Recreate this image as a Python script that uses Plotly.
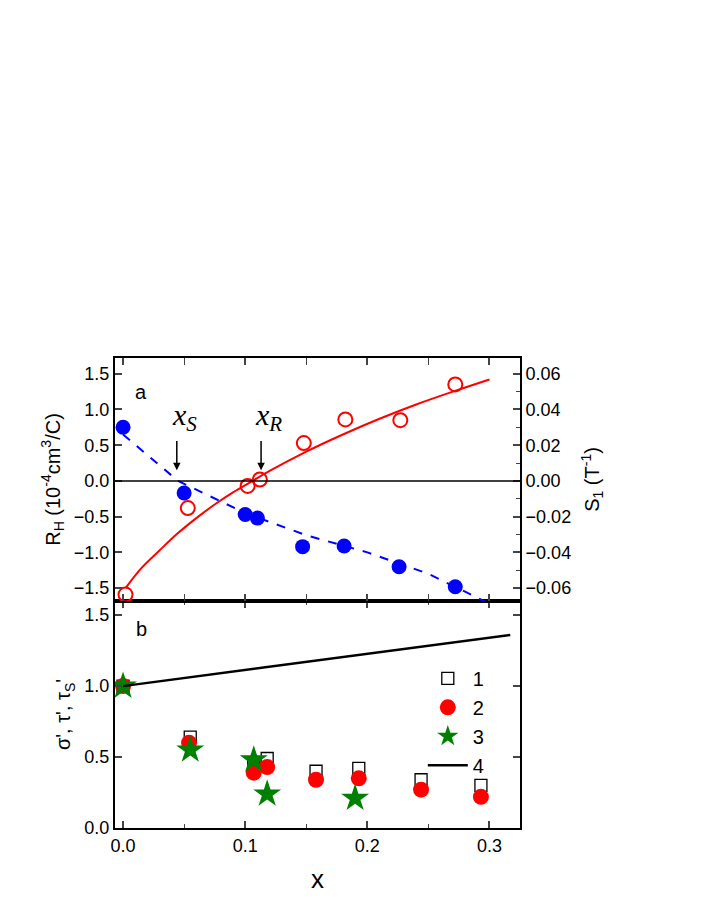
import plotly.graph_objects as go

# panel a data
x_s1 = [0.002, 0.053, 0.102, 0.112, 0.148, 0.182, 0.227, 0.272]
s1 = [-1.59, -0.38, -0.07, 0.02, 0.53, 0.86, 0.85, 1.35]
x_rh = [0.0, 0.05, 0.1, 0.11, 0.147, 0.181, 0.226, 0.272]
rh = [0.75, -0.17, -0.47, -0.52, -0.92, -0.91, -1.2, -1.48]
x_fit_s1 = [0.002, 0.015, 0.03, 0.045, 0.06, 0.075, 0.09, 0.105, 0.12, 0.15, 0.18, 0.21, 0.24, 0.27, 0.3]
fit_s1 = [-1.5, -1.22, -0.97, -0.73, -0.52, -0.33, -0.16, -0.01, 0.14, 0.41, 0.65, 0.87, 1.07, 1.25, 1.42]
x_fit_rh = [0.0, 0.045, 0.1, 0.15, 0.2, 0.25, 0.28, 0.3]
fit_rh = [0.65, 0.0, -0.45, -0.76, -1.0, -1.3, -1.55, -1.72]

# panel b data
x_sq = [0.0, 0.055, 0.107, 0.118, 0.158, 0.193, 0.244, 0.293]
sq = [1.0, 0.64, 0.46, 0.49, 0.4, 0.42, 0.34, 0.3]
x_ci = [0.0, 0.054, 0.107, 0.118, 0.158, 0.193, 0.244, 0.293]
ci = [1.0, 0.6, 0.39, 0.43, 0.34, 0.35, 0.27, 0.22]
x_st = [0.0, 0.055, 0.107, 0.118, 0.19]
st = [1.0, 0.55, 0.48, 0.24, 0.21]
x_ln = [0.0, 0.317]
ln = [1.0, 1.36]

fig = go.Figure()
fig.add_trace(go.Scatter(x=x_fit_s1, y=fit_s1, mode="lines", line=dict(color="red", width=2, shape="spline"), showlegend=False, yaxis="y2"))
fig.add_trace(go.Scatter(x=x_fit_rh, y=fit_rh, mode="lines", line=dict(color="blue", width=2, dash="dash"), showlegend=False, yaxis="y2"))
fig.add_trace(go.Scatter(x=x_s1, y=s1, mode="markers", showlegend=False, yaxis="y2",
                         marker=dict(symbol="circle-open", size=14, color="red", line=dict(width=2))))
fig.add_trace(go.Scatter(x=x_rh, y=rh, mode="markers", showlegend=False, yaxis="y2",
                         marker=dict(symbol="circle", size=15, color="blue")))

fig.add_trace(go.Scatter(x=x_sq, y=sq, mode="markers", name="1",
                         marker=dict(symbol="square-open", size=12, color="black", line=dict(width=1.3))))
fig.add_trace(go.Scatter(x=x_ci, y=ci, mode="markers", name="2",
                         marker=dict(symbol="circle", size=16, color="red")))
fig.add_trace(go.Scatter(x=x_st, y=st, mode="markers", name="3",
                         marker=dict(symbol="star", size=21, color="green")))
fig.add_trace(go.Scatter(x=x_ln, y=ln, mode="lines", name="4", line=dict(color="black", width=2.5)))

ax = dict(showline=True, linecolor="black", linewidth=2, mirror="allticks", ticks="inside",
          ticklen=7, tickwidth=1.5, showgrid=False, zeroline=False, automargin=False,
          minor=dict(ticks="inside", ticklen=4, tickwidth=1.2, nticks=2),
          tickfont=dict(family="Liberation Sans, Arial", size=18, color="black"))

fig.update_layout(
    width=706, height=913, plot_bgcolor="white", paper_bgcolor="white",
    margin=dict(l=107, r=194, t=350, b=93),
    font=dict(family="Liberation Sans, Arial", color="black"),
    xaxis=dict(ax, range=[-0.0066, 0.325], dtick=0.1, tickformat=".1f", anchor="y",
               title=dict(text="x", font=dict(size=26))),
    xaxis2=dict(ax, range=[-0.0066, 0.325], dtick=0.1, showticklabels=False, anchor="y2", matches="x"),
    yaxis=dict(ax, domain=[0, 0.483], range=[0, 1.6], dtick=0.5, tickformat=".1f",
               title=dict(text="σ', τ', τ<sub>S</sub>'", font=dict(size=20), standoff=8)),
    yaxis2=dict(ax, domain=[0.483, 1], range=[-1.68, 1.72], dtick=0.5, tickformat=".1f", anchor="x2",
                title=dict(text="R<sub>H</sub> (10<sup>-4</sup>cm<sup>3</sup>/C)", font=dict(size=20), standoff=8)),
    yaxis3=dict(ax, domain=[0.483, 1], range=[-0.0672, 0.0688], dtick=0.02, tickformat=".2f",
                overlaying="y2", side="right", anchor="x2", mirror=False,
                title=dict(text="S<sub>1</sub> (T<sup>-1</sup>)", font=dict(size=20))),
    legend=dict(x=0.76, y=0.36, xanchor="left", yanchor="top", bgcolor="rgba(0,0,0,0)",
                font=dict(size=20), tracegroupgap=0, itemwidth=40),
)
# dummy trace for right axis
fig.add_trace(go.Scatter(x=[0], y=[0], yaxis="y3", xaxis="x2", mode="markers",
                         marker=dict(opacity=0), showlegend=False, hoverinfo="skip"))
for tr in fig.data[:4]:
    tr.xaxis = "x2"

fig.add_shape(type="line", xref="x2", yref="y2", x0=-0.0066, x1=0.325, y0=0, y1=0,
              line=dict(color="black", width=1.5))
for xa, lab in [(0.044, "S"), (0.113, "R")]:
    fig.add_annotation(x=xa, y=0.15, ax=xa, ay=0.58, xref="x2", yref="y2", axref="x2", ayref="y2",
                       showarrow=True, arrowhead=2, arrowsize=1, arrowwidth=1.5, arrowcolor="black", text="")
    fig.add_annotation(x=xa + 0.006, y=0.6, xref="x2", yref="y2", showarrow=False, yanchor="bottom",
                       text="<i>x<sub>%s</sub></i>" % lab,
                       font=dict(family="Liberation Serif, Times New Roman", size=30))
fig.add_annotation(x=0.015, y=1.25, xref="x2", yref="y2", text="a", showarrow=False, font=dict(size=20))
fig.add_annotation(x=0.015, y=1.4, xref="x", yref="y", text="b", showarrow=False, font=dict(size=20))

fig.write_html("out.html")
